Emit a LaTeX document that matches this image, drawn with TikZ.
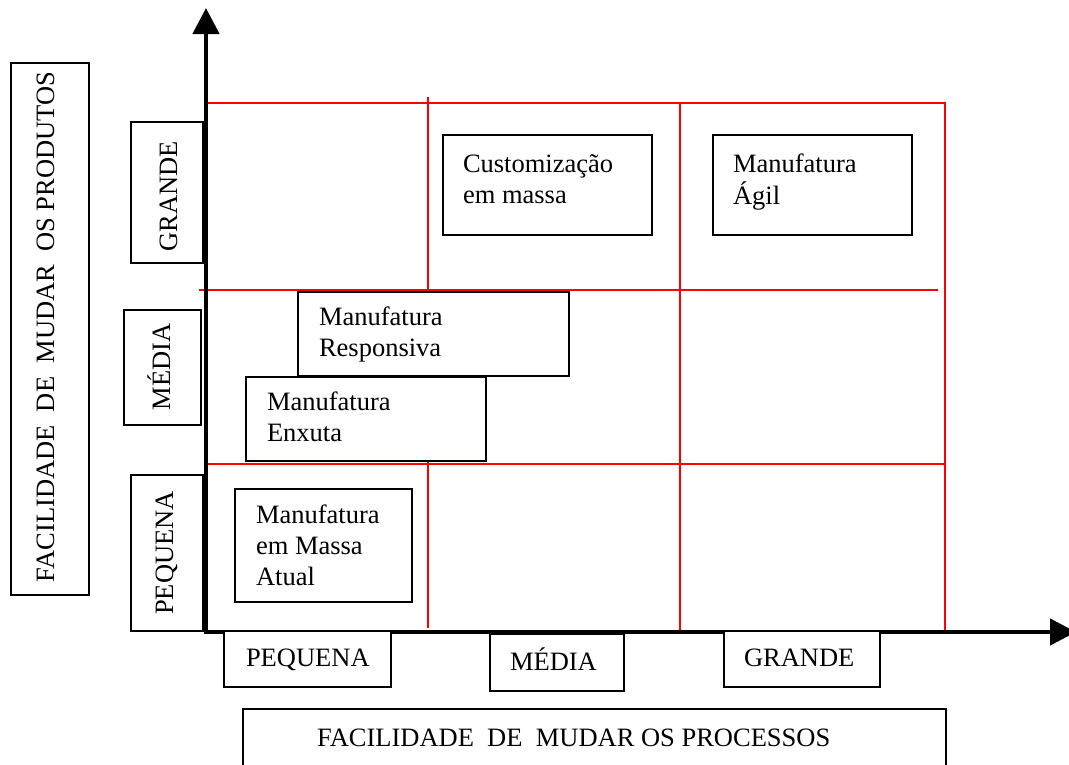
\documentclass[tikz,border=0pt]{standalone}
\usepackage{fontspec}
\setmainfont{Liberation Serif}
\usetikzlibrary{arrows.meta}
\newcommand\rows[1]{\begin{tabular}[t]{@{}l@{}}#1\end{tabular}}
\begin{document}
\begin{tikzpicture}[x=1pt,y=-1pt,
  every node/.style={font=\fontsize{26.5}{31}\selectfont, inner sep=0pt, outer sep=0pt},
  box/.style={draw=black, line width=2pt, fill=white},
  lbl/.style={anchor=base west},
  vlbl/.style={anchor=base, rotate=90},
  grid/.style={draw=red, line width=1.8pt},
  axis/.style={line width=4.5pt, line join=miter, >={Triangle[width=26pt,length=26pt]}}]
\useasboundingbox (0,0) rectangle (1069,764);

% quadrant grid
\draw[grid] (206,103) -- (945,103);
\draw[grid] (199,290) -- (938,290);
\draw[grid] (206,464) -- (945,464);
\draw[grid] (428,97) -- (428,628);
\draw[grid] (680,102) -- (680,632);
\draw[grid] (945,102) -- (945,632);

% axes
\coordinate (ytip) at (206,8);
\coordinate (O) at (206,632);
\coordinate (xtip) at (1076,632);
\draw[axis, <->] (ytip) -- (O) -- (xtip);

% box helper: left, top, right, bottom, name
\newcommand\bx[5]{\node[box, minimum width={#3pt-#1pt}, minimum height={#4pt-#2pt}]
  (#5) at ({(#1+#3)/2},{(#2+#4)/2}) {};}

% vertical scale
\bx{11}{63}{89}{595}{yaxis}
\bx{131}{122}{203}{263}{yg}
\bx{124}{310}{201}{425}{ym}
\bx{131}{475}{203}{631}{yp}
\node[vlbl] (yaxist) at (54,327) {FACILIDADE\ \ DE\ \ MUDAR\ \ OS PRODUTOS};
\node[vlbl] (ygt) at (177,196) {GRANDE};
\node[vlbl] (ymt) at (170,367) {MÉDIA};
\node[vlbl] (ypt) at (173,553) {PEQUENA};

% horizontal scale
\bx{224}{631}{391}{687}{xp}
\bx{490}{634}{624}{691}{xm}
\bx{724}{631}{880}{687}{xg}
\bx{243}{709}{946}{775}{xaxis}
\node[lbl] (xpt) at (246,666) {PEQUENA};
\node[lbl] (xmt) at (510,670) {MÉDIA};
\node[lbl] (xgt) at (744,666) {GRANDE};
\node[lbl] (xaxist) at (317,746) {FACILIDADE\ \ DE\ \ MUDAR OS PROCESSOS};

% manufacturing paradigms
\bx{443}{135}{652}{235}{cm}
\node[lbl] (cmt) at (463,172) {\rows{Customização\\em massa}};
\bx{713}{135}{912}{235}{ag}
\node[lbl] (agt) at (733,172) {\rows{Manufatura\\Ágil}};
\bx{298}{292}{569}{376}{re}
\node[lbl] (ret) at (319,325) {\rows{Manufatura\\Responsiva}};
\bx{246}{377}{486}{461}{en}
\node[lbl] (ent) at (267,410) {\rows{Manufatura\\Enxuta}};
\bx{235}{489}{412}{602}{ma}
\node[lbl] (mat) at (256,523) {\rows{Manufatura\\em Massa\\Atual}};
\end{tikzpicture}
\end{document}
